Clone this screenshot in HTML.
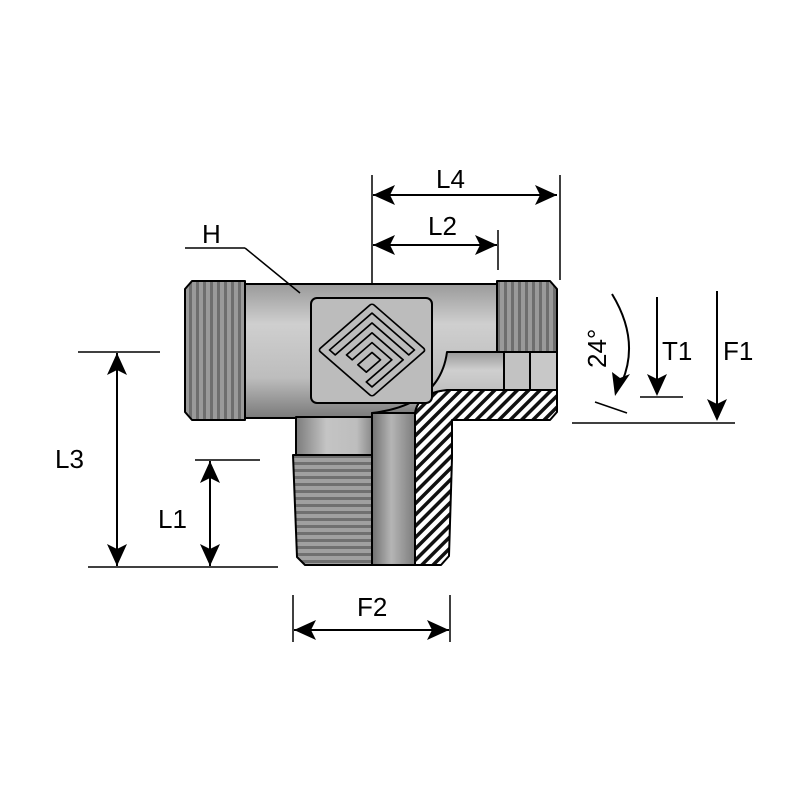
<!DOCTYPE html>
<html><head><meta charset="utf-8"><style>html,body{margin:0;padding:0;background:#fff}svg{display:block}</style></head><body>
<svg width="800" height="800" viewBox="0 0 800 800" xmlns="http://www.w3.org/2000/svg">
<defs>
<linearGradient id="gv" x1="0" y1="0" x2="0" y2="1">
<stop offset="0" stop-color="#9a9a9a"/><stop offset="0.3" stop-color="#cfcfcf"/><stop offset="0.7" stop-color="#bdbdbd"/><stop offset="1" stop-color="#7a7a7a"/></linearGradient>
<linearGradient id="gh" x1="0" y1="0" x2="1" y2="0">
<stop offset="0" stop-color="#7c7c7c"/><stop offset="0.4" stop-color="#c4c4c4"/><stop offset="0.8" stop-color="#bdbdbd"/><stop offset="1" stop-color="#8a8a8a"/></linearGradient>
<linearGradient id="gt" x1="0" y1="0" x2="1" y2="0">
<stop offset="0" stop-color="#707070"/><stop offset="0.45" stop-color="#b5b5b5"/><stop offset="1" stop-color="#7c7c7c"/></linearGradient>
<pattern id="vth" width="7" height="10" patternUnits="userSpaceOnUse"><rect width="7" height="10" fill="#9a9a9a"/><rect width="3" height="10" fill="#6e6e6e"/></pattern>
<pattern id="hth" width="10" height="7" patternUnits="userSpaceOnUse"><rect width="10" height="7" fill="#a0a0a0"/><rect width="10" height="3" fill="#707070"/></pattern>
<pattern id="hat" width="8" height="8" patternUnits="userSpaceOnUse" patternTransform="rotate(45)"><rect width="8" height="8" fill="#fff"/><rect width="3.5" height="8" fill="#111"/></pattern>
<marker id="ar" markerWidth="10" markerHeight="8" refX="10" refY="4" orient="auto" markerUnits="userSpaceOnUse" viewBox="0 0 10 8"><path d="M0,0 L10,4 L0,8 L2.5,4z" fill="#000"/></marker>
</defs>
<g stroke="#000" stroke-width="2" stroke-linejoin="round">
<!-- body -->
<rect x="245" y="284" width="253" height="134" fill="url(#gv)"/>
<!-- stem -->
<path d="M296,417 L296,455 L372,455 L372,417 Z" fill="url(#gh)"/>
<path d="M293,455 L372,455 L372,565 L305,565 L297,557 Z" fill="url(#hth)"/>
<rect x="372" y="413" width="43" height="152" fill="url(#gt)"/>
<!-- hatched section -->
<path d="M415,565 L415,413 Q418,393 447,390 L557,390 L557,412 L550,420 L452,420 L452,458 L449,556 L441,565 Z" fill="url(#hat)"/>
<!-- bore -->
<path d="M372,413 Q440,405 447,352 L557,352 L557,390 L447,390 Q418,393 415,413 Z" fill="url(#gv)"/>
<rect x="504" y="352" width="26" height="38" fill="#c2c2c2"/>
<rect x="530" y="352" width="27" height="38" fill="#c8c8c8"/>
<!-- threads -->
<path d="M192,281 L245,281 L245,420 L192,420 L185,412 L185,289 Z" fill="url(#vth)"/>
<path d="M497,281 L550,281 L557,289 L557,352 L497,352 Z" fill="url(#vth)"/>
<!-- logo -->
<rect x="311" y="298" width="121" height="105" rx="6" fill="#bcbcbc"/>
<g fill="none" stroke-width="1.8" transform="translate(372,350) scale(1,0.87) rotate(45)">
<rect x="-38" y="-38" width="76" height="76" rx="3"/>
<path d="M30,-30 L-30,-30 L-30,30 L-22,30 L-22,-22 L30,-22 Z"/>
<path d="M22,-14 L-14,-14 L-14,22 L-6,22 L-6,-6 L22,-6 L22,30 L30,30 L30,-14 Z" />
<path d="M14,2 L2,2 L2,22 L14,22 Z"/>
</g>
</g>
<!-- dimensions -->
<g stroke="#000" stroke-width="1.5" fill="none">
<line x1="372" y1="175" x2="372" y2="285"/><line x1="560" y1="175" x2="560" y2="280"/>
<line x1="498" y1="230" x2="498" y2="270"/>
<line x1="185" y1="248" x2="245" y2="248"/><line x1="245" y1="248" x2="300" y2="293"/>
<line x1="78" y1="352" x2="160" y2="352"/><line x1="88" y1="567" x2="278" y2="567"/>
<line x1="195" y1="460" x2="260" y2="460"/>
<line x1="293" y1="595" x2="293" y2="642"/><line x1="450" y1="595" x2="450" y2="642"/>
<line x1="640" y1="397" x2="683" y2="397"/><line x1="572" y1="423" x2="735" y2="423"/>
<line x1="595" y1="402" x2="627" y2="413"/>
</g>
<g stroke="#000" stroke-width="2" fill="none" marker-start="url(#ar)" marker-end="url(#ar)">
<path d="M390,195 L540,195" marker-start="none" marker-end="none"/>
</g>
<g stroke="#000" stroke-width="2" fill="none">
<line x1="373" y1="195" x2="557" y2="195"/>
<line x1="373" y1="245" x2="497" y2="245"/>
<line x1="117" y1="353" x2="117" y2="566"/>
<line x1="210" y1="461" x2="210" y2="566"/>
<line x1="294" y1="630" x2="449" y2="630"/>
<line x1="657" y1="297" x2="657" y2="380"/>
<line x1="717" y1="291" x2="717" y2="405"/>
<path d="M612,294 Q640,340 622,382"/>
</g>
<g fill="#000">
<path d="M373,195 L395,185 L390,195 L395,205Z"/><path d="M557,195 L535,185 L540,195 L535,205Z"/>
<path d="M373,245 L395,235 L390,245 L395,255Z"/><path d="M497,245 L475,235 L480,245 L475,255Z"/>
<path d="M117,353 L107,375 L117,370 L127,375Z"/><path d="M117,566 L107,544 L117,549 L127,544Z"/>
<path d="M210,461 L200,483 L210,478 L220,483Z"/><path d="M210,566 L200,544 L210,549 L220,544Z"/>
<path d="M294,630 L316,620 L311,630 L316,640Z"/><path d="M449,630 L427,620 L432,630 L427,640Z"/>
<path d="M657,396 L647,374 L657,379 L667,374Z"/>
<path d="M717,421 L707,399 L717,404 L727,399Z"/>
<path d="M615,396 L612,372 L620,378 L630,374Z"/>
</g>
<g font-family="Liberation Sans, sans-serif" font-size="26" fill="#000">
<text x="436" y="188">L4</text>
<text x="428" y="235">L2</text>
<text x="202" y="243">H</text>
<text x="55" y="468">L3</text>
<text x="158" y="528">L1</text>
<text x="357" y="616">F2</text>
<text x="662" y="360">T1</text>
<text x="723" y="360">F1</text>
<text transform="translate(606,368) rotate(-90)">24°</text>
</g>
</svg>
</body></html>
